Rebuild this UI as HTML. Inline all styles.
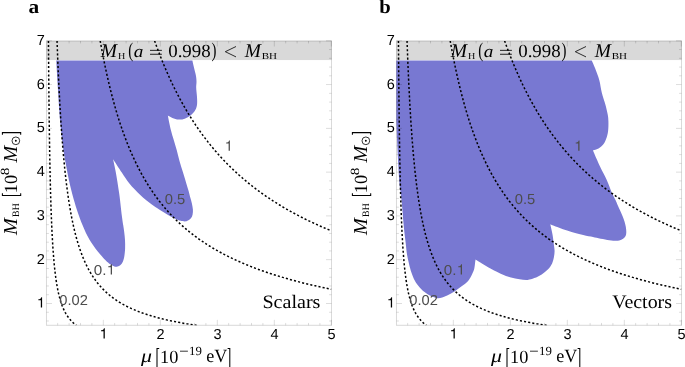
<!DOCTYPE html>
<html><head><meta charset="utf-8"><title>fig</title>
<style>
html,body{margin:0;padding:0;background:#fff;}
body{width:685px;height:367px;overflow:hidden;font-family:"Liberation Sans",sans-serif;}
svg{display:block;}
.all{opacity:0.999;}
text{text-rendering:geometricPrecision;}
</style></head><body>
<svg width="685" height="367" viewBox="0 0 685 367">
<defs><clipPath id="clip"><rect x="46.50" y="41.00" width="285.00" height="284.30"/></clipPath></defs>
<rect width="685" height="367" fill="#fff"/>
<g class="all">
<g transform="translate(0,0)">
<rect x="46.30" y="40.80" width="285.40" height="19.25" fill="#d9d9d9"/>
<path d="M56.25,60.40 C78.94,60.40 169.71,60.40 192.40,60.40 C192.65,61.53 193.32,64.70 193.90,67.20 C194.48,69.70 195.47,73.02 195.90,75.40 C196.33,77.78 196.45,79.45 196.50,81.50 C196.55,83.55 196.13,85.32 196.20,87.70 C196.27,90.08 196.75,93.08 196.90,95.80 C197.05,98.52 197.37,101.62 197.10,104.00 C196.83,106.38 196.35,108.23 195.30,110.10 C194.25,111.97 192.57,113.77 190.80,115.20 C189.03,116.63 186.73,117.98 184.70,118.70 C182.67,119.42 180.65,119.63 178.60,119.50 C176.55,119.37 174.20,118.55 172.40,117.90 C170.60,117.25 168.57,115.98 167.80,115.60 C168.30,117.95 169.81,125.63 170.80,129.70 C171.79,133.77 172.77,136.62 173.75,140.00 C174.73,143.38 175.74,146.52 176.70,150.00 C177.66,153.48 178.48,157.27 179.50,160.90 C180.52,164.53 181.70,168.17 182.80,171.80 C183.90,175.43 185.13,179.48 186.10,182.70 C187.07,185.92 187.92,188.67 188.60,191.10 C189.28,193.53 189.65,195.25 190.20,197.30 C190.75,199.35 191.45,201.37 191.90,203.40 C192.35,205.43 192.78,207.67 192.90,209.50 C193.02,211.33 192.90,212.97 192.60,214.40 C192.30,215.83 191.87,217.08 191.10,218.10 C190.33,219.12 189.03,219.95 188.00,220.50 C186.97,221.05 186.33,221.40 184.90,221.40 C183.47,221.40 181.23,221.05 179.40,220.50 C177.57,219.95 175.93,219.12 173.90,218.10 C171.87,217.08 169.65,215.83 167.20,214.40 C164.75,212.97 161.77,211.13 159.20,209.50 C156.63,207.87 154.95,207.02 151.80,204.60 C148.65,202.18 144.03,198.52 140.30,195.00 C136.57,191.48 132.48,187.25 129.40,183.50 C126.32,179.75 124.52,176.55 121.80,172.50 C119.08,168.45 114.55,161.42 113.10,159.20 C113.53,161.30 114.68,166.07 115.70,171.80 C116.72,177.53 118.18,186.33 119.20,193.60 C120.22,200.87 121.13,210.17 121.80,215.40 C122.47,220.63 122.80,222.23 123.20,225.00 C123.60,227.77 123.90,229.50 124.20,232.00 C124.50,234.50 124.85,237.27 125.00,240.00 C125.15,242.73 125.23,245.57 125.10,248.40 C124.97,251.23 124.60,254.75 124.20,257.00 C123.80,259.25 123.32,260.58 122.70,261.90 C122.08,263.22 121.37,264.13 120.50,264.90 C119.63,265.67 118.52,266.25 117.50,266.50 C116.48,266.75 115.63,266.77 114.40,266.40 C113.17,266.03 111.53,265.27 110.10,264.30 C108.67,263.33 107.43,262.23 105.80,260.60 C104.17,258.97 102.03,256.53 100.30,254.50 C98.57,252.47 96.93,250.43 95.40,248.40 C93.87,246.37 92.42,244.35 91.10,242.30 C89.78,240.25 88.65,238.32 87.50,236.10 C86.35,233.88 85.28,231.43 84.20,229.00 C83.12,226.57 82.07,224.25 81.00,221.50 C79.93,218.75 78.83,215.58 77.80,212.50 C76.77,209.42 76.10,207.58 74.80,203.00 C73.50,198.42 71.47,191.33 70.00,185.00 C68.53,178.67 67.17,171.33 66.00,165.00 C64.83,158.67 64.00,154.50 63.00,147.00 C62.00,139.50 60.83,129.50 60.00,120.00 C59.17,110.50 58.62,99.93 58.00,90.00 C57.38,80.07 56.54,65.33 56.25,60.40 Z" fill="#7878d2"/>
<g clip-path="url(#clip)" fill="none" stroke="#000" stroke-width="1.5" stroke-dasharray="2.1 2.1">
<path d="M48.45,40.80 L48.48,44.82 L48.51,48.78 L48.54,52.69 L48.57,56.56 L48.60,60.37 L48.63,64.13 L48.66,67.84 L48.69,71.50 L48.72,75.12 L48.75,78.68 L48.79,82.20 L48.82,85.68 L48.85,89.11 L48.89,92.49 L48.92,95.83 L48.96,99.13 L48.99,102.38 L49.03,105.59 L49.06,108.76 L49.10,111.88 L49.14,114.97 L49.17,118.02 L49.21,121.02 L49.25,123.99 L49.29,126.91 L49.33,129.80 L49.37,132.65 L49.41,135.46 L49.45,138.24 L49.49,140.98 L49.54,143.69 L49.58,146.35 L49.62,148.99 L49.67,151.59 L49.71,154.15 L49.76,156.68 L49.80,159.18 L49.85,161.65 L49.90,164.08 L49.94,166.48 L49.99,168.85 L50.04,171.19 L50.09,173.50 L50.14,175.78 L50.19,178.02 L50.24,180.24 L50.30,182.43 L50.35,184.59 L50.40,186.72 L50.46,188.83 L50.51,190.91 L50.57,192.95 L50.63,194.98 L50.68,196.97 L50.74,198.94 L50.80,200.89 L50.86,202.81 L50.92,204.70 L50.98,206.57 L51.04,208.41 L51.11,210.23 L51.17,212.03 L51.24,213.80 L51.30,215.55 L51.37,217.28 L51.44,218.98 L51.50,220.66 L51.57,222.32 L51.64,223.96 L51.71,225.58 L51.79,227.17 L51.86,228.75 L51.93,230.30 L52.01,231.83 L52.08,233.35 L52.16,234.84 L52.24,236.31 L52.32,237.77 L52.40,239.20 L52.48,240.62 L52.56,242.02 L52.64,243.40 L52.73,244.76 L52.81,246.10 L52.90,247.43 L52.99,248.74 L53.08,250.03 L53.17,251.30 L53.26,252.56 L53.35,253.80 L53.44,255.03 L53.54,256.24 L53.63,257.43 L53.73,258.61 L53.83,259.77 L53.93,260.92 L54.03,262.05 L54.13,263.16 L54.24,264.27 L54.34,265.36 L54.45,266.43 L54.56,267.49 L54.67,268.53 L54.78,269.57 L54.89,270.58 L55.01,271.59 L55.12,272.58 L55.24,273.56 L55.36,274.53 L55.48,275.48 L55.60,276.42 L55.72,277.35 L55.85,278.27 L55.98,279.17 L56.10,280.06 L56.23,280.94 L56.37,281.81 L56.50,282.67 L56.64,283.52 L56.77,284.35 L56.91,285.18 L57.05,285.99 L57.20,286.79 L57.34,287.59 L57.49,288.37 L57.64,289.14 L57.79,289.90 L57.94,290.66 L58.09,291.40 L58.25,292.13 L58.41,292.85 L58.57,293.57 L58.73,294.27 L58.90,294.96 L59.06,295.65 L59.23,296.33 L59.41,296.99 L59.58,297.65 L59.76,298.30 L59.94,298.94 L60.12,299.58 L60.30,300.20 L60.49,300.82 L60.67,301.43 L60.87,302.03 L61.06,302.62 L61.25,303.21 L61.45,303.79 L61.65,304.35 L61.86,304.92 L62.07,305.47 L62.27,306.02 L62.49,306.56 L62.70,307.09 L62.92,307.62 L63.14,308.14 L63.36,308.65 L63.59,309.16 L63.82,309.66 L64.05,310.15 L64.29,310.64 L64.53,311.12 L64.77,311.59 L65.02,312.06 L65.26,312.52 L65.52,312.98 L65.77,313.43 L66.03,313.87 L66.29,314.31 L66.56,314.74 L66.83,315.17 L67.10,315.59 L67.38,316.00 L67.66,316.41 L67.94,316.82 L68.23,317.21 L68.52,317.61 L68.81,318.00 L69.11,318.38 L69.42,318.76 L69.72,319.13 L70.03,319.50 L70.35,319.87 L70.67,320.22 L70.99,320.58 L71.32,320.93 L71.65,321.27 L71.99,321.61 L72.33,321.95 L72.68,322.28 L73.03,322.61 L73.38,322.93 L73.74,323.25 L74.11,323.57 L74.47,323.88 L74.85,324.18 L75.23,324.49 L75.61,324.78 L76.00,325.08 L76.40,325.37"/>
<path d="M57.05,40.80 L57.19,44.82 L57.34,48.78 L57.48,52.69 L57.63,56.56 L57.78,60.37 L57.93,64.13 L58.09,67.84 L58.25,71.50 L58.40,75.12 L58.56,78.68 L58.73,82.20 L58.89,85.68 L59.06,89.11 L59.23,92.49 L59.40,95.83 L59.58,99.13 L59.75,102.38 L59.93,105.59 L60.11,108.76 L60.29,111.88 L60.48,114.97 L60.67,118.02 L60.86,121.02 L61.05,123.99 L61.25,126.91 L61.45,129.80 L61.65,132.65 L61.85,135.46 L62.06,138.24 L62.27,140.98 L62.48,143.69 L62.70,146.35 L62.91,148.99 L63.13,151.59 L63.36,154.15 L63.58,156.68 L63.81,159.18 L64.05,161.65 L64.28,164.08 L64.52,166.48 L64.76,168.85 L65.01,171.19 L65.26,173.50 L65.51,175.78 L65.76,178.02 L66.02,180.24 L66.28,182.43 L66.55,184.59 L66.82,186.72 L67.09,188.83 L67.37,190.91 L67.65,192.95 L67.93,194.98 L68.22,196.97 L68.51,198.94 L68.80,200.89 L69.10,202.81 L69.41,204.70 L69.71,206.57 L70.02,208.41 L70.34,210.23 L70.66,212.03 L70.98,213.80 L71.31,215.55 L71.64,217.28 L71.98,218.98 L72.32,220.66 L72.67,222.32 L73.02,223.96 L73.37,225.58 L73.73,227.17 L74.09,228.75 L74.46,230.30 L74.84,231.83 L75.22,233.35 L75.60,234.84 L75.99,236.31 L76.38,237.77 L76.78,239.20 L77.19,240.62 L77.60,242.02 L78.01,243.40 L78.44,244.76 L78.86,246.10 L79.30,247.43 L79.73,248.74 L80.18,250.03 L80.63,251.30 L81.08,252.56 L81.55,253.80 L82.01,255.03 L82.49,256.24 L82.97,257.43 L83.46,258.61 L83.95,259.77 L84.45,260.92 L84.96,262.05 L85.47,263.16 L85.99,264.27 L86.52,265.36 L87.05,266.43 L87.59,267.49 L88.14,268.53 L88.70,269.57 L89.26,270.58 L89.83,271.59 L90.41,272.58 L91.00,273.56 L91.59,274.53 L92.19,275.48 L92.80,276.42 L93.42,277.35 L94.04,278.27 L94.68,279.17 L95.32,280.06 L95.97,280.94 L96.63,281.81 L97.30,282.67 L97.98,283.52 L98.66,284.35 L99.36,285.18 L100.06,285.99 L100.78,286.79 L101.50,287.59 L102.23,288.37 L102.98,289.14 L103.73,289.90 L104.49,290.66 L105.27,291.40 L106.05,292.13 L106.84,292.85 L107.65,293.57 L108.46,294.27 L109.29,294.96 L110.12,295.65 L110.97,296.33 L111.83,296.99 L112.70,297.65 L113.58,298.30 L114.48,298.94 L115.38,299.58 L116.30,300.20 L117.23,300.82 L118.17,301.43 L119.13,302.03 L120.09,302.62 L121.07,303.21 L122.07,303.79 L123.07,304.35 L124.09,304.92 L125.13,305.47 L126.17,306.02 L127.24,306.56 L128.31,307.09 L129.40,307.62 L130.50,308.14 L131.62,308.65 L132.76,309.16 L133.90,309.66 L135.07,310.15 L136.25,310.64 L137.44,311.12 L138.65,311.59 L139.88,312.06 L141.12,312.52 L142.38,312.98 L143.66,313.43 L144.95,313.87 L146.26,314.31 L147.59,314.74 L148.93,315.17 L150.30,315.59 L151.68,316.00 L153.08,316.41 L154.50,316.82 L155.93,317.21 L157.39,317.61 L158.87,318.00 L160.36,318.38 L161.88,318.76 L163.41,319.13 L164.97,319.50 L166.54,319.87 L168.14,320.22 L169.76,320.58 L171.40,320.93 L173.06,321.27 L174.74,321.61 L176.45,321.95 L178.18,322.28 L179.93,322.61 L181.70,322.93 L183.50,323.25 L185.33,323.57 L187.17,323.88 L189.04,324.18 L190.94,324.49 L192.86,324.78 L194.81,325.08 L196.78,325.37"/>
<path d="M100.21,40.80 L100.66,43.34 L101.11,45.86 L101.57,48.36 L102.03,50.84 L102.50,53.30 L102.97,55.73 L103.44,58.15 L103.92,60.55 L104.40,62.93 L104.89,65.28 L105.38,67.62 L105.87,69.94 L106.37,72.24 L106.87,74.52 L107.38,76.78 L107.89,79.02 L108.40,81.25 L108.92,83.45 L109.45,85.64 L109.97,87.81 L110.51,89.96 L111.04,92.10 L111.58,94.21 L112.13,96.31 L112.68,98.39 L113.23,100.45 L113.79,102.50 L114.36,104.53 L114.93,106.54 L115.50,108.54 L116.08,110.52 L116.66,112.48 L117.25,114.43 L117.85,116.36 L118.44,118.27 L119.05,120.17 L119.65,122.05 L120.27,123.92 L120.89,125.77 L121.51,127.61 L122.14,129.43 L122.77,131.24 L123.41,133.03 L124.06,134.80 L124.71,136.57 L125.36,138.31 L126.02,140.05 L126.69,141.76 L127.36,143.47 L128.04,145.16 L128.72,146.83 L129.41,148.50 L130.11,150.14 L130.81,151.78 L131.52,153.40 L132.23,155.01 L132.95,156.60 L133.67,158.18 L134.40,159.75 L135.14,161.30 L135.88,162.85 L136.63,164.37 L137.38,165.89 L138.15,167.40 L138.91,168.89 L139.69,170.37 L140.47,171.83 L141.26,173.29 L142.05,174.73 L142.85,176.16 L143.66,177.58 L144.47,178.99 L145.29,180.38 L146.12,181.76 L146.96,183.14 L147.80,184.50 L148.65,185.85 L149.50,187.19 L150.36,188.51 L151.23,189.83 L152.11,191.13 L153.00,192.43 L153.89,193.71 L154.79,194.99 L155.70,196.25 L156.61,197.50 L157.53,198.74 L158.46,199.97 L159.40,201.20 L160.35,202.41 L161.30,203.61 L162.26,204.80 L163.23,205.98 L164.21,207.15 L165.19,208.31 L166.19,209.47 L167.19,210.61 L168.20,211.74 L169.22,212.86 L170.25,213.98 L171.28,215.08 L172.33,216.18 L173.38,217.27 L174.45,218.34 L175.52,219.41 L176.60,220.47 L177.69,221.52 L178.79,222.57 L179.89,223.60 L181.01,224.63 L182.14,225.64 L183.27,226.65 L184.42,227.65 L185.57,228.64 L186.74,229.63 L187.91,230.60 L189.09,231.57 L190.29,232.53 L191.49,233.48 L192.71,234.42 L193.93,235.36 L195.17,236.29 L196.41,237.21 L197.66,238.12 L198.93,239.03 L200.21,239.92 L201.49,240.81 L202.79,241.70 L204.10,242.57 L205.42,243.44 L206.75,244.30 L208.09,245.15 L209.44,246.00 L210.81,246.84 L212.18,247.67 L213.57,248.50 L214.97,249.32 L216.38,250.13 L217.80,250.93 L219.23,251.73 L220.68,252.52 L222.14,253.31 L223.61,254.09 L225.09,254.86 L226.59,255.63 L228.09,256.39 L229.61,257.14 L231.15,257.89 L232.69,258.63 L234.25,259.36 L235.82,260.09 L237.41,260.82 L239.00,261.53 L240.62,262.24 L242.24,262.95 L243.88,263.65 L245.53,264.34 L247.20,265.03 L248.88,265.71 L250.57,266.39 L252.28,267.06 L254.00,267.72 L255.74,268.38 L257.49,269.04 L259.25,269.68 L261.03,270.33 L262.83,270.97 L264.64,271.60 L266.46,272.23 L268.31,272.85 L270.16,273.46 L272.03,274.08 L273.92,274.68 L275.82,275.29 L277.74,275.88 L279.68,276.47 L281.63,277.06 L283.60,277.64 L285.58,278.22 L287.58,278.79 L289.60,279.36 L291.63,279.92 L293.68,280.48 L295.75,281.04 L297.84,281.58 L299.94,282.13 L302.06,282.67 L304.20,283.20 L306.36,283.74 L308.53,284.26 L310.72,284.78 L312.93,285.30 L315.16,285.82 L317.41,286.33 L319.68,286.83 L321.96,287.33 L324.27,287.83 L326.59,288.32 L328.94,288.81 L331.30,289.30"/>
<path d="M154.60,40.80 L155.13,42.28 L155.65,43.75 L156.18,45.22 L156.72,46.67 L157.25,48.12 L157.79,49.57 L158.33,51.00 L158.87,52.43 L159.42,53.86 L159.97,55.27 L160.52,56.68 L161.07,58.08 L161.63,59.48 L162.19,60.87 L162.75,62.25 L163.32,63.63 L163.88,65.00 L164.45,66.36 L165.03,67.71 L165.60,69.06 L166.18,70.41 L166.76,71.74 L167.35,73.07 L167.93,74.40 L168.52,75.71 L169.12,77.02 L169.71,78.33 L170.31,79.62 L170.91,80.92 L171.52,82.20 L172.12,83.48 L172.73,84.75 L173.35,86.02 L173.96,87.28 L174.58,88.54 L175.20,89.79 L175.83,91.03 L176.46,92.26 L177.09,93.50 L177.72,94.72 L178.36,95.94 L179.00,97.15 L179.64,98.36 L180.29,99.56 L180.94,100.76 L181.59,101.95 L182.25,103.13 L182.91,104.31 L183.57,105.48 L184.24,106.65 L184.91,107.81 L185.58,108.96 L186.25,110.11 L186.93,111.26 L187.61,112.40 L188.30,113.53 L188.99,114.66 L189.68,115.78 L190.38,116.90 L191.07,118.01 L191.78,119.12 L192.48,120.22 L193.19,121.31 L193.90,122.40 L194.62,123.49 L195.34,124.57 L196.06,125.64 L196.79,126.71 L197.52,127.78 L198.25,128.84 L198.99,129.89 L199.73,130.94 L200.47,131.98 L201.22,133.02 L201.97,134.06 L202.73,135.09 L203.49,136.11 L204.25,137.13 L205.01,138.14 L205.78,139.15 L206.56,140.16 L207.33,141.16 L208.11,142.15 L208.90,143.14 L209.69,144.13 L210.48,145.11 L211.28,146.08 L212.08,147.05 L212.88,148.02 L213.69,148.98 L214.50,149.94 L215.32,150.89 L216.14,151.84 L216.96,152.78 L217.79,153.72 L218.62,154.65 L219.45,155.58 L220.29,156.51 L221.14,157.43 L221.99,158.35 L222.84,159.26 L223.69,160.16 L224.55,161.07 L225.42,161.97 L226.29,162.86 L227.16,163.75 L228.04,164.64 L228.92,165.52 L229.80,166.39 L230.69,167.27 L231.59,168.14 L232.49,169.00 L233.39,169.86 L234.30,170.72 L235.21,171.57 L236.13,172.42 L237.05,173.26 L237.97,174.10 L238.90,174.94 L239.83,175.77 L240.77,176.60 L241.72,177.42 L242.66,178.24 L243.62,179.05 L244.57,179.87 L245.53,180.67 L246.50,181.48 L247.47,182.28 L248.45,183.07 L249.43,183.87 L250.41,184.66 L251.40,185.44 L252.40,186.22 L253.40,187.00 L254.40,187.77 L255.41,188.54 L256.42,189.31 L257.44,190.07 L258.47,190.83 L259.50,191.58 L260.53,192.34 L261.57,193.08 L262.61,193.83 L263.66,194.57 L264.72,195.30 L265.78,196.04 L266.84,196.77 L267.91,197.49 L268.98,198.22 L270.06,198.94 L271.15,199.65 L272.24,200.36 L273.34,201.07 L274.44,201.78 L275.54,202.48 L276.65,203.18 L277.77,203.87 L278.89,204.57 L280.02,205.26 L281.16,205.94 L282.29,206.62 L283.44,207.30 L284.59,207.98 L285.75,208.65 L286.91,209.32 L288.07,209.98 L289.25,210.65 L290.42,211.31 L291.61,211.96 L292.80,212.62 L293.99,213.26 L295.19,213.91 L296.40,214.56 L297.61,215.20 L298.83,215.83 L300.06,216.47 L301.29,217.10 L302.52,217.73 L303.77,218.35 L305.02,218.97 L306.27,219.59 L307.53,220.21 L308.80,220.82 L310.07,221.43 L311.35,222.04 L312.64,222.64 L313.93,223.25 L315.23,223.84 L316.53,224.44 L317.84,225.03 L319.16,225.62 L320.48,226.21 L321.81,226.79 L323.15,227.38 L324.49,227.95 L325.84,228.53 L327.19,229.10 L328.56,229.67 L329.92,230.24 L331.30,230.81"/>
</g>
<path d="M57.70,325.30 v-2.40 M57.70,41.00 v2.40 M69.10,325.30 v-2.40 M69.10,41.00 v2.40 M80.50,325.30 v-2.40 M80.50,41.00 v2.40 M91.90,325.30 v-2.40 M91.90,41.00 v2.40 M103.30,325.30 v-5.50 M103.30,41.00 v5.50 M114.70,325.30 v-2.40 M114.70,41.00 v2.40 M126.10,325.30 v-2.40 M126.10,41.00 v2.40 M137.50,325.30 v-2.40 M137.50,41.00 v2.40 M148.90,325.30 v-2.40 M148.90,41.00 v2.40 M160.30,325.30 v-5.50 M160.30,41.00 v5.50 M171.70,325.30 v-2.40 M171.70,41.00 v2.40 M183.10,325.30 v-2.40 M183.10,41.00 v2.40 M194.50,325.30 v-2.40 M194.50,41.00 v2.40 M205.90,325.30 v-2.40 M205.90,41.00 v2.40 M217.30,325.30 v-5.50 M217.30,41.00 v5.50 M228.70,325.30 v-2.40 M228.70,41.00 v2.40 M240.10,325.30 v-2.40 M240.10,41.00 v2.40 M251.50,325.30 v-2.40 M251.50,41.00 v2.40 M262.90,325.30 v-2.40 M262.90,41.00 v2.40 M274.30,325.30 v-5.50 M274.30,41.00 v5.50 M285.70,325.30 v-2.40 M285.70,41.00 v2.40 M297.10,325.30 v-2.40 M297.10,41.00 v2.40 M308.50,325.30 v-2.40 M308.50,41.00 v2.40 M319.90,325.30 v-2.40 M319.90,41.00 v2.40 M331.30,325.30 v-5.50 M331.30,41.00 v5.50 M46.50,320.99 h2.40 M331.50,320.99 h-2.40 M46.50,312.24 h2.40 M331.50,312.24 h-2.40 M46.50,303.48 h5.50 M331.50,303.48 h-5.50 M46.50,294.72 h2.40 M331.50,294.72 h-2.40 M46.50,285.97 h2.40 M331.50,285.97 h-2.40 M46.50,277.21 h2.40 M331.50,277.21 h-2.40 M46.50,268.46 h2.40 M331.50,268.46 h-2.40 M46.50,259.70 h5.50 M331.50,259.70 h-5.50 M46.50,250.94 h2.40 M331.50,250.94 h-2.40 M46.50,242.19 h2.40 M331.50,242.19 h-2.40 M46.50,233.43 h2.40 M331.50,233.43 h-2.40 M46.50,224.68 h2.40 M331.50,224.68 h-2.40 M46.50,215.92 h5.50 M331.50,215.92 h-5.50 M46.50,207.16 h2.40 M331.50,207.16 h-2.40 M46.50,198.41 h2.40 M331.50,198.41 h-2.40 M46.50,189.65 h2.40 M331.50,189.65 h-2.40 M46.50,180.90 h2.40 M331.50,180.90 h-2.40 M46.50,172.14 h5.50 M331.50,172.14 h-5.50 M46.50,163.38 h2.40 M331.50,163.38 h-2.40 M46.50,154.63 h2.40 M331.50,154.63 h-2.40 M46.50,145.87 h2.40 M331.50,145.87 h-2.40 M46.50,137.12 h2.40 M331.50,137.12 h-2.40 M46.50,128.36 h5.50 M331.50,128.36 h-5.50 M46.50,119.60 h2.40 M331.50,119.60 h-2.40 M46.50,110.85 h2.40 M331.50,110.85 h-2.40 M46.50,102.09 h2.40 M331.50,102.09 h-2.40 M46.50,93.34 h2.40 M331.50,93.34 h-2.40 M46.50,84.58 h5.50 M331.50,84.58 h-5.50 M46.50,75.82 h2.40 M331.50,75.82 h-2.40 M46.50,67.07 h2.40 M331.50,67.07 h-2.40 M46.50,58.31 h2.40 M331.50,58.31 h-2.40 M46.50,49.56 h2.40 M331.50,49.56 h-2.40 M46.50,40.80 h5.50 M331.50,40.80 h-5.50" stroke="#000" stroke-opacity="0.18" stroke-width="0.8" fill="none"/>
<rect x="46.50" y="41.00" width="285.00" height="284.30" fill="none" stroke="#000" stroke-opacity="0.15" stroke-width="1.1"/>
<g font-family="'Liberation Sans', sans-serif" font-size="14.5" fill="#000">
<text x="160.60" y="338.6" text-anchor="middle">2</text>
<text x="217.60" y="338.6" text-anchor="middle">3</text>
<text x="274.60" y="338.6" text-anchor="middle">4</text>
<text x="331.60" y="338.6" text-anchor="middle">5</text>
<text x="44.9" y="263.70" text-anchor="end">2</text>
<text x="44.9" y="219.92" text-anchor="end">3</text>
<text x="44.9" y="176.14" text-anchor="end">4</text>
<text x="44.9" y="132.36" text-anchor="end">5</text>
<text x="44.9" y="88.58" text-anchor="end">6</text>
<text x="44.9" y="44.80" text-anchor="end">7</text>
</g>
<path d="M104.80,338.60L103.52,338.60L103.52,331.28L101.06,331.28L101.06,330.36C102.64,330.31 103.73,329.68 103.97,328.32L104.80,328.32Z" fill="#000"/>
<path d="M42.10,307.48L40.82,307.48L40.82,300.16L38.36,300.16L38.36,299.24C39.94,299.19 41.03,298.56 41.27,297.20L42.10,297.20Z" fill="#000"/>
<text transform="translate(59.23,305.10) scale(1.0139,1)" font-family="'Liberation Sans', sans-serif" font-size="14.50" fill="#4d4d4d">0.02</text>
<text transform="translate(93.71,274.60) scale(1.0488,1)" font-family="'Liberation Sans', sans-serif" font-size="14.50" fill="#4d4d4d">0.</text>
<path d="M112.00,274.60L110.72,274.60L110.72,267.28L108.26,267.28L108.26,266.36C109.84,266.31 110.93,265.68 111.17,264.32L112.00,264.32Z" fill="#4d4d4d"/>
<text transform="translate(164.72,203.80) scale(1.0168,1)" font-family="'Liberation Sans', sans-serif" font-size="14.50" fill="#4d4d4d">0.5</text>
<path d="M229.90,150.70L228.62,150.70L228.62,143.38L226.16,143.38L226.16,142.46C227.74,142.41 228.83,141.78 229.07,140.42L229.90,140.42Z" fill="#4d4d4d"/>
<text transform="translate(100.73,56.70) scale(0.9968,1)" font-family="'Liberation Serif', serif" font-style="italic" font-size="19.60" fill="#000">M</text>
<text transform="translate(117.91,59.30) scale(1.0967,1)" font-family="'Liberation Serif', serif" font-size="9.20" fill="#000">H</text>
<text transform="translate(128.35,56.90) scale(0.7045,1)" font-family="'Liberation Serif', serif" font-size="21.00" fill="#000">(</text>
<text transform="translate(133.83,56.70) scale(1.1090,1)" font-family="'Liberation Serif', serif" font-style="italic" font-size="17.30" fill="#000">a</text>
<path d="M150,50.35H161.9M150,54.25H161.9" stroke="#000" stroke-width="0.85" fill="none"/>
<text transform="translate(168.18,56.60) scale(1.0165,1)" font-family="'Liberation Serif', serif" font-size="18.60" fill="#000">0.998</text>
<text transform="translate(211.42,56.90) scale(0.7045,1)" font-family="'Liberation Serif', serif" font-size="21.00" fill="#000">)</text>
<path d="M236,46.5L225.3,51.7L236,56.9" stroke="#000" stroke-width="0.8" fill="none"/>
<text transform="translate(244.73,56.70) scale(0.9910,1)" font-family="'Liberation Serif', serif" font-style="italic" font-size="19.60" fill="#000">M</text>
<text transform="translate(261.68,59.30) scale(1.2004,1)" font-family="'Liberation Serif', serif" font-size="9.20" fill="#000">BH</text>
<text transform="translate(262.46,308.20) scale(1.0565,1)" font-family="'Liberation Serif', serif" font-size="19.00" fill="#000">Scalars</text>
<text transform="translate(141.02,362.40) scale(1.1982,1)" font-family="'Liberation Serif', serif" font-style="italic" font-size="18.30" fill="#000">μ</text>
<path d="M159.2,348.4H157V367.4H159.2" stroke="#000" stroke-width="1.05" fill="none"/>
<text transform="translate(159.99,362.50) scale(0.9842,1)" font-family="'Liberation Serif', serif" font-size="18.60" fill="#000">10</text>
<path d="M180,351.2H187.9" stroke="#000" stroke-width="0.8" fill="none"/>
<text transform="translate(189.07,354.60) scale(1.0286,1)" font-family="'Liberation Serif', serif" font-size="12.50" fill="#000">19</text>
<text transform="translate(206.29,362.40) scale(0.9734,1)" font-family="'Liberation Serif', serif" font-size="18.60" fill="#000">eV</text>
<path d="M227.6,348.4H229.8V367.4H227.6" stroke="#000" stroke-width="1.05" fill="none"/>
<g transform="translate(16.5,235.2) rotate(-90)">
<text transform="translate(0.24,0.00) scale(1.0207,1)" font-family="'Liberation Serif', serif" font-style="italic" font-size="19.80" fill="#000">M</text>
<text transform="translate(18.32,2.80) scale(1.0043,1)" font-family="'Liberation Serif', serif" font-size="9.80" fill="#000">BH</text>
<path d="M41.9,-14.1H39.7V4.2H41.9" stroke="#000" stroke-width="1.05" fill="none"/>
<text transform="translate(41.98,0.00) scale(0.9904,1)" font-family="'Liberation Serif', serif" font-size="18.60" fill="#000">10</text>
<text transform="translate(59.92,-7.90) scale(1.2269,1)" font-family="'Liberation Serif', serif" font-size="12.50" fill="#000">8</text>
<text transform="translate(72.74,0.00) scale(1.0151,1)" font-family="'Liberation Serif', serif" font-style="italic" font-size="19.80" fill="#000">M</text>
<circle cx="94.4" cy="-0.65" r="3.85" fill="none" stroke="#000" stroke-width="0.8"/><circle cx="94.4" cy="-0.65" r="0.95" fill="#000"/>
<path d="M100.4,-14.1H102.6V4.2H100.4" stroke="#000" stroke-width="1.05" fill="none"/>
</g>
</g>
<g transform="translate(350,0)">
<rect x="46.30" y="40.80" width="285.40" height="19.25" fill="#d9d9d9"/>
<path d="M46.30,60.40 C78.88,60.40 209.18,60.40 241.75,60.40 C242.29,61.67 243.75,64.73 245.00,68.00 C246.25,71.27 248.12,75.92 249.25,80.00 C250.38,84.08 250.71,88.33 251.75,92.50 C252.79,96.67 254.49,101.25 255.50,105.00 C256.51,108.75 257.32,112.33 257.80,115.00 C258.28,117.67 258.30,119.08 258.40,121.00 C258.50,122.92 258.45,124.85 258.40,126.50 C258.35,128.15 258.28,129.43 258.10,130.90 C257.92,132.37 257.67,133.85 257.30,135.30 C256.93,136.75 256.40,138.33 255.90,139.60 C255.40,140.87 255.03,141.80 254.30,142.90 C253.57,144.00 252.47,145.28 251.50,146.20 C250.53,147.12 249.40,147.87 248.50,148.40 C247.60,148.93 247.03,149.10 246.10,149.40 C245.17,149.70 243.43,150.07 242.90,150.20 C243.48,151.58 245.13,155.62 246.40,158.50 C247.67,161.38 248.78,163.92 250.50,167.50 C252.22,171.08 254.88,175.83 256.75,180.00 C258.62,184.17 260.29,189.17 261.75,192.50 C263.21,195.83 264.52,197.92 265.50,200.00 C266.48,202.08 266.83,203.25 267.60,205.00 C268.37,206.75 269.28,208.68 270.10,210.50 C270.92,212.32 271.77,214.08 272.50,215.90 C273.23,217.72 273.95,219.58 274.50,221.40 C275.05,223.22 275.50,224.98 275.80,226.80 C276.10,228.62 276.33,230.75 276.30,232.30 C276.27,233.85 276.13,235.02 275.60,236.10 C275.07,237.18 274.15,238.08 273.10,238.80 C272.05,239.52 270.67,240.07 269.30,240.40 C267.93,240.73 266.90,240.88 264.90,240.80 C262.90,240.72 260.03,240.32 257.30,239.90 C254.57,239.48 251.23,238.85 248.50,238.30 C245.77,237.75 243.98,237.28 240.90,236.60 C237.82,235.92 234.65,235.43 230.00,234.20 C225.35,232.97 217.95,230.86 213.00,229.20 C208.05,227.54 202.42,225.07 200.30,224.25 C200.68,226.04 202.00,231.54 202.60,235.00 C203.20,238.46 203.57,242.32 203.90,245.00 C204.23,247.68 204.60,249.05 204.60,251.10 C204.60,253.15 204.32,255.25 203.90,257.30 C203.48,259.35 203.12,261.37 202.10,263.40 C201.08,265.43 199.53,267.67 197.80,269.50 C196.07,271.33 193.95,272.97 191.70,274.40 C189.45,275.83 186.65,277.18 184.30,278.10 C181.95,279.02 180.05,279.70 177.60,279.90 C175.15,280.10 172.37,279.70 169.60,279.30 C166.83,278.90 163.65,278.22 161.00,277.50 C158.35,276.78 157.20,276.55 153.70,275.00 C150.20,273.45 144.68,270.80 140.00,268.20 C135.32,265.60 128.00,260.87 125.60,259.40 C125.53,259.80 125.42,260.27 125.20,261.80 C124.98,263.33 124.80,266.55 124.30,268.60 C123.80,270.65 123.23,272.05 122.20,274.10 C121.17,276.15 119.92,278.82 118.10,280.90 C116.28,282.98 113.57,284.83 111.30,286.60 C109.03,288.37 106.77,290.07 104.50,291.50 C102.23,292.93 99.75,294.20 97.70,295.20 C95.65,296.20 93.90,296.98 92.20,297.50 C90.50,298.02 89.20,298.45 87.50,298.30 C85.80,298.15 83.93,297.47 82.00,296.60 C80.07,295.73 77.72,294.35 75.90,293.10 C74.08,291.85 72.80,290.92 71.10,289.10 C69.40,287.28 67.13,284.48 65.70,282.20 C64.27,279.92 63.42,277.67 62.50,275.40 C61.58,273.13 61.10,272.00 60.20,268.60 C59.30,265.20 57.85,259.25 57.10,255.00 C56.35,250.75 56.17,247.00 55.70,243.10 C55.23,239.20 54.72,235.45 54.30,231.60 C53.88,227.75 53.52,223.60 53.20,220.00 C52.88,216.40 52.68,213.33 52.40,210.00 C52.12,206.67 51.97,204.17 51.50,200.00 C51.03,195.83 50.10,190.17 49.60,185.00 C49.10,179.83 48.88,175.67 48.50,169.00 C48.12,162.33 47.67,153.17 47.30,145.00 C46.93,136.83 46.47,124.17 46.30,120.00 C46.30,110.07 46.30,70.33 46.30,60.40 Z" fill="#7878d2"/>
<g clip-path="url(#clip)" fill="none" stroke="#000" stroke-width="1.5" stroke-dasharray="2.1 2.1">
<path d="M48.45,40.80 L48.48,44.82 L48.51,48.78 L48.54,52.69 L48.57,56.56 L48.60,60.37 L48.63,64.13 L48.66,67.84 L48.69,71.50 L48.72,75.12 L48.75,78.68 L48.79,82.20 L48.82,85.68 L48.85,89.11 L48.89,92.49 L48.92,95.83 L48.96,99.13 L48.99,102.38 L49.03,105.59 L49.06,108.76 L49.10,111.88 L49.14,114.97 L49.17,118.02 L49.21,121.02 L49.25,123.99 L49.29,126.91 L49.33,129.80 L49.37,132.65 L49.41,135.46 L49.45,138.24 L49.49,140.98 L49.54,143.69 L49.58,146.35 L49.62,148.99 L49.67,151.59 L49.71,154.15 L49.76,156.68 L49.80,159.18 L49.85,161.65 L49.90,164.08 L49.94,166.48 L49.99,168.85 L50.04,171.19 L50.09,173.50 L50.14,175.78 L50.19,178.02 L50.24,180.24 L50.30,182.43 L50.35,184.59 L50.40,186.72 L50.46,188.83 L50.51,190.91 L50.57,192.95 L50.63,194.98 L50.68,196.97 L50.74,198.94 L50.80,200.89 L50.86,202.81 L50.92,204.70 L50.98,206.57 L51.04,208.41 L51.11,210.23 L51.17,212.03 L51.24,213.80 L51.30,215.55 L51.37,217.28 L51.44,218.98 L51.50,220.66 L51.57,222.32 L51.64,223.96 L51.71,225.58 L51.79,227.17 L51.86,228.75 L51.93,230.30 L52.01,231.83 L52.08,233.35 L52.16,234.84 L52.24,236.31 L52.32,237.77 L52.40,239.20 L52.48,240.62 L52.56,242.02 L52.64,243.40 L52.73,244.76 L52.81,246.10 L52.90,247.43 L52.99,248.74 L53.08,250.03 L53.17,251.30 L53.26,252.56 L53.35,253.80 L53.44,255.03 L53.54,256.24 L53.63,257.43 L53.73,258.61 L53.83,259.77 L53.93,260.92 L54.03,262.05 L54.13,263.16 L54.24,264.27 L54.34,265.36 L54.45,266.43 L54.56,267.49 L54.67,268.53 L54.78,269.57 L54.89,270.58 L55.01,271.59 L55.12,272.58 L55.24,273.56 L55.36,274.53 L55.48,275.48 L55.60,276.42 L55.72,277.35 L55.85,278.27 L55.98,279.17 L56.10,280.06 L56.23,280.94 L56.37,281.81 L56.50,282.67 L56.64,283.52 L56.77,284.35 L56.91,285.18 L57.05,285.99 L57.20,286.79 L57.34,287.59 L57.49,288.37 L57.64,289.14 L57.79,289.90 L57.94,290.66 L58.09,291.40 L58.25,292.13 L58.41,292.85 L58.57,293.57 L58.73,294.27 L58.90,294.96 L59.06,295.65 L59.23,296.33 L59.41,296.99 L59.58,297.65 L59.76,298.30 L59.94,298.94 L60.12,299.58 L60.30,300.20 L60.49,300.82 L60.67,301.43 L60.87,302.03 L61.06,302.62 L61.25,303.21 L61.45,303.79 L61.65,304.35 L61.86,304.92 L62.07,305.47 L62.27,306.02 L62.49,306.56 L62.70,307.09 L62.92,307.62 L63.14,308.14 L63.36,308.65 L63.59,309.16 L63.82,309.66 L64.05,310.15 L64.29,310.64 L64.53,311.12 L64.77,311.59 L65.02,312.06 L65.26,312.52 L65.52,312.98 L65.77,313.43 L66.03,313.87 L66.29,314.31 L66.56,314.74 L66.83,315.17 L67.10,315.59 L67.38,316.00 L67.66,316.41 L67.94,316.82 L68.23,317.21 L68.52,317.61 L68.81,318.00 L69.11,318.38 L69.42,318.76 L69.72,319.13 L70.03,319.50 L70.35,319.87 L70.67,320.22 L70.99,320.58 L71.32,320.93 L71.65,321.27 L71.99,321.61 L72.33,321.95 L72.68,322.28 L73.03,322.61 L73.38,322.93 L73.74,323.25 L74.11,323.57 L74.47,323.88 L74.85,324.18 L75.23,324.49 L75.61,324.78 L76.00,325.08 L76.40,325.37"/>
<path d="M57.05,40.80 L57.19,44.82 L57.34,48.78 L57.48,52.69 L57.63,56.56 L57.78,60.37 L57.93,64.13 L58.09,67.84 L58.25,71.50 L58.40,75.12 L58.56,78.68 L58.73,82.20 L58.89,85.68 L59.06,89.11 L59.23,92.49 L59.40,95.83 L59.58,99.13 L59.75,102.38 L59.93,105.59 L60.11,108.76 L60.29,111.88 L60.48,114.97 L60.67,118.02 L60.86,121.02 L61.05,123.99 L61.25,126.91 L61.45,129.80 L61.65,132.65 L61.85,135.46 L62.06,138.24 L62.27,140.98 L62.48,143.69 L62.70,146.35 L62.91,148.99 L63.13,151.59 L63.36,154.15 L63.58,156.68 L63.81,159.18 L64.05,161.65 L64.28,164.08 L64.52,166.48 L64.76,168.85 L65.01,171.19 L65.26,173.50 L65.51,175.78 L65.76,178.02 L66.02,180.24 L66.28,182.43 L66.55,184.59 L66.82,186.72 L67.09,188.83 L67.37,190.91 L67.65,192.95 L67.93,194.98 L68.22,196.97 L68.51,198.94 L68.80,200.89 L69.10,202.81 L69.41,204.70 L69.71,206.57 L70.02,208.41 L70.34,210.23 L70.66,212.03 L70.98,213.80 L71.31,215.55 L71.64,217.28 L71.98,218.98 L72.32,220.66 L72.67,222.32 L73.02,223.96 L73.37,225.58 L73.73,227.17 L74.09,228.75 L74.46,230.30 L74.84,231.83 L75.22,233.35 L75.60,234.84 L75.99,236.31 L76.38,237.77 L76.78,239.20 L77.19,240.62 L77.60,242.02 L78.01,243.40 L78.44,244.76 L78.86,246.10 L79.30,247.43 L79.73,248.74 L80.18,250.03 L80.63,251.30 L81.08,252.56 L81.55,253.80 L82.01,255.03 L82.49,256.24 L82.97,257.43 L83.46,258.61 L83.95,259.77 L84.45,260.92 L84.96,262.05 L85.47,263.16 L85.99,264.27 L86.52,265.36 L87.05,266.43 L87.59,267.49 L88.14,268.53 L88.70,269.57 L89.26,270.58 L89.83,271.59 L90.41,272.58 L91.00,273.56 L91.59,274.53 L92.19,275.48 L92.80,276.42 L93.42,277.35 L94.04,278.27 L94.68,279.17 L95.32,280.06 L95.97,280.94 L96.63,281.81 L97.30,282.67 L97.98,283.52 L98.66,284.35 L99.36,285.18 L100.06,285.99 L100.78,286.79 L101.50,287.59 L102.23,288.37 L102.98,289.14 L103.73,289.90 L104.49,290.66 L105.27,291.40 L106.05,292.13 L106.84,292.85 L107.65,293.57 L108.46,294.27 L109.29,294.96 L110.12,295.65 L110.97,296.33 L111.83,296.99 L112.70,297.65 L113.58,298.30 L114.48,298.94 L115.38,299.58 L116.30,300.20 L117.23,300.82 L118.17,301.43 L119.13,302.03 L120.09,302.62 L121.07,303.21 L122.07,303.79 L123.07,304.35 L124.09,304.92 L125.13,305.47 L126.17,306.02 L127.24,306.56 L128.31,307.09 L129.40,307.62 L130.50,308.14 L131.62,308.65 L132.76,309.16 L133.90,309.66 L135.07,310.15 L136.25,310.64 L137.44,311.12 L138.65,311.59 L139.88,312.06 L141.12,312.52 L142.38,312.98 L143.66,313.43 L144.95,313.87 L146.26,314.31 L147.59,314.74 L148.93,315.17 L150.30,315.59 L151.68,316.00 L153.08,316.41 L154.50,316.82 L155.93,317.21 L157.39,317.61 L158.87,318.00 L160.36,318.38 L161.88,318.76 L163.41,319.13 L164.97,319.50 L166.54,319.87 L168.14,320.22 L169.76,320.58 L171.40,320.93 L173.06,321.27 L174.74,321.61 L176.45,321.95 L178.18,322.28 L179.93,322.61 L181.70,322.93 L183.50,323.25 L185.33,323.57 L187.17,323.88 L189.04,324.18 L190.94,324.49 L192.86,324.78 L194.81,325.08 L196.78,325.37"/>
<path d="M100.21,40.80 L100.66,43.34 L101.11,45.86 L101.57,48.36 L102.03,50.84 L102.50,53.30 L102.97,55.73 L103.44,58.15 L103.92,60.55 L104.40,62.93 L104.89,65.28 L105.38,67.62 L105.87,69.94 L106.37,72.24 L106.87,74.52 L107.38,76.78 L107.89,79.02 L108.40,81.25 L108.92,83.45 L109.45,85.64 L109.97,87.81 L110.51,89.96 L111.04,92.10 L111.58,94.21 L112.13,96.31 L112.68,98.39 L113.23,100.45 L113.79,102.50 L114.36,104.53 L114.93,106.54 L115.50,108.54 L116.08,110.52 L116.66,112.48 L117.25,114.43 L117.85,116.36 L118.44,118.27 L119.05,120.17 L119.65,122.05 L120.27,123.92 L120.89,125.77 L121.51,127.61 L122.14,129.43 L122.77,131.24 L123.41,133.03 L124.06,134.80 L124.71,136.57 L125.36,138.31 L126.02,140.05 L126.69,141.76 L127.36,143.47 L128.04,145.16 L128.72,146.83 L129.41,148.50 L130.11,150.14 L130.81,151.78 L131.52,153.40 L132.23,155.01 L132.95,156.60 L133.67,158.18 L134.40,159.75 L135.14,161.30 L135.88,162.85 L136.63,164.37 L137.38,165.89 L138.15,167.40 L138.91,168.89 L139.69,170.37 L140.47,171.83 L141.26,173.29 L142.05,174.73 L142.85,176.16 L143.66,177.58 L144.47,178.99 L145.29,180.38 L146.12,181.76 L146.96,183.14 L147.80,184.50 L148.65,185.85 L149.50,187.19 L150.36,188.51 L151.23,189.83 L152.11,191.13 L153.00,192.43 L153.89,193.71 L154.79,194.99 L155.70,196.25 L156.61,197.50 L157.53,198.74 L158.46,199.97 L159.40,201.20 L160.35,202.41 L161.30,203.61 L162.26,204.80 L163.23,205.98 L164.21,207.15 L165.19,208.31 L166.19,209.47 L167.19,210.61 L168.20,211.74 L169.22,212.86 L170.25,213.98 L171.28,215.08 L172.33,216.18 L173.38,217.27 L174.45,218.34 L175.52,219.41 L176.60,220.47 L177.69,221.52 L178.79,222.57 L179.89,223.60 L181.01,224.63 L182.14,225.64 L183.27,226.65 L184.42,227.65 L185.57,228.64 L186.74,229.63 L187.91,230.60 L189.09,231.57 L190.29,232.53 L191.49,233.48 L192.71,234.42 L193.93,235.36 L195.17,236.29 L196.41,237.21 L197.66,238.12 L198.93,239.03 L200.21,239.92 L201.49,240.81 L202.79,241.70 L204.10,242.57 L205.42,243.44 L206.75,244.30 L208.09,245.15 L209.44,246.00 L210.81,246.84 L212.18,247.67 L213.57,248.50 L214.97,249.32 L216.38,250.13 L217.80,250.93 L219.23,251.73 L220.68,252.52 L222.14,253.31 L223.61,254.09 L225.09,254.86 L226.59,255.63 L228.09,256.39 L229.61,257.14 L231.15,257.89 L232.69,258.63 L234.25,259.36 L235.82,260.09 L237.41,260.82 L239.00,261.53 L240.62,262.24 L242.24,262.95 L243.88,263.65 L245.53,264.34 L247.20,265.03 L248.88,265.71 L250.57,266.39 L252.28,267.06 L254.00,267.72 L255.74,268.38 L257.49,269.04 L259.25,269.68 L261.03,270.33 L262.83,270.97 L264.64,271.60 L266.46,272.23 L268.31,272.85 L270.16,273.46 L272.03,274.08 L273.92,274.68 L275.82,275.29 L277.74,275.88 L279.68,276.47 L281.63,277.06 L283.60,277.64 L285.58,278.22 L287.58,278.79 L289.60,279.36 L291.63,279.92 L293.68,280.48 L295.75,281.04 L297.84,281.58 L299.94,282.13 L302.06,282.67 L304.20,283.20 L306.36,283.74 L308.53,284.26 L310.72,284.78 L312.93,285.30 L315.16,285.82 L317.41,286.33 L319.68,286.83 L321.96,287.33 L324.27,287.83 L326.59,288.32 L328.94,288.81 L331.30,289.30"/>
<path d="M154.60,40.80 L155.13,42.28 L155.65,43.75 L156.18,45.22 L156.72,46.67 L157.25,48.12 L157.79,49.57 L158.33,51.00 L158.87,52.43 L159.42,53.86 L159.97,55.27 L160.52,56.68 L161.07,58.08 L161.63,59.48 L162.19,60.87 L162.75,62.25 L163.32,63.63 L163.88,65.00 L164.45,66.36 L165.03,67.71 L165.60,69.06 L166.18,70.41 L166.76,71.74 L167.35,73.07 L167.93,74.40 L168.52,75.71 L169.12,77.02 L169.71,78.33 L170.31,79.62 L170.91,80.92 L171.52,82.20 L172.12,83.48 L172.73,84.75 L173.35,86.02 L173.96,87.28 L174.58,88.54 L175.20,89.79 L175.83,91.03 L176.46,92.26 L177.09,93.50 L177.72,94.72 L178.36,95.94 L179.00,97.15 L179.64,98.36 L180.29,99.56 L180.94,100.76 L181.59,101.95 L182.25,103.13 L182.91,104.31 L183.57,105.48 L184.24,106.65 L184.91,107.81 L185.58,108.96 L186.25,110.11 L186.93,111.26 L187.61,112.40 L188.30,113.53 L188.99,114.66 L189.68,115.78 L190.38,116.90 L191.07,118.01 L191.78,119.12 L192.48,120.22 L193.19,121.31 L193.90,122.40 L194.62,123.49 L195.34,124.57 L196.06,125.64 L196.79,126.71 L197.52,127.78 L198.25,128.84 L198.99,129.89 L199.73,130.94 L200.47,131.98 L201.22,133.02 L201.97,134.06 L202.73,135.09 L203.49,136.11 L204.25,137.13 L205.01,138.14 L205.78,139.15 L206.56,140.16 L207.33,141.16 L208.11,142.15 L208.90,143.14 L209.69,144.13 L210.48,145.11 L211.28,146.08 L212.08,147.05 L212.88,148.02 L213.69,148.98 L214.50,149.94 L215.32,150.89 L216.14,151.84 L216.96,152.78 L217.79,153.72 L218.62,154.65 L219.45,155.58 L220.29,156.51 L221.14,157.43 L221.99,158.35 L222.84,159.26 L223.69,160.16 L224.55,161.07 L225.42,161.97 L226.29,162.86 L227.16,163.75 L228.04,164.64 L228.92,165.52 L229.80,166.39 L230.69,167.27 L231.59,168.14 L232.49,169.00 L233.39,169.86 L234.30,170.72 L235.21,171.57 L236.13,172.42 L237.05,173.26 L237.97,174.10 L238.90,174.94 L239.83,175.77 L240.77,176.60 L241.72,177.42 L242.66,178.24 L243.62,179.05 L244.57,179.87 L245.53,180.67 L246.50,181.48 L247.47,182.28 L248.45,183.07 L249.43,183.87 L250.41,184.66 L251.40,185.44 L252.40,186.22 L253.40,187.00 L254.40,187.77 L255.41,188.54 L256.42,189.31 L257.44,190.07 L258.47,190.83 L259.50,191.58 L260.53,192.34 L261.57,193.08 L262.61,193.83 L263.66,194.57 L264.72,195.30 L265.78,196.04 L266.84,196.77 L267.91,197.49 L268.98,198.22 L270.06,198.94 L271.15,199.65 L272.24,200.36 L273.34,201.07 L274.44,201.78 L275.54,202.48 L276.65,203.18 L277.77,203.87 L278.89,204.57 L280.02,205.26 L281.16,205.94 L282.29,206.62 L283.44,207.30 L284.59,207.98 L285.75,208.65 L286.91,209.32 L288.07,209.98 L289.25,210.65 L290.42,211.31 L291.61,211.96 L292.80,212.62 L293.99,213.26 L295.19,213.91 L296.40,214.56 L297.61,215.20 L298.83,215.83 L300.06,216.47 L301.29,217.10 L302.52,217.73 L303.77,218.35 L305.02,218.97 L306.27,219.59 L307.53,220.21 L308.80,220.82 L310.07,221.43 L311.35,222.04 L312.64,222.64 L313.93,223.25 L315.23,223.84 L316.53,224.44 L317.84,225.03 L319.16,225.62 L320.48,226.21 L321.81,226.79 L323.15,227.38 L324.49,227.95 L325.84,228.53 L327.19,229.10 L328.56,229.67 L329.92,230.24 L331.30,230.81"/>
</g>
<path d="M57.70,325.30 v-2.40 M57.70,41.00 v2.40 M69.10,325.30 v-2.40 M69.10,41.00 v2.40 M80.50,325.30 v-2.40 M80.50,41.00 v2.40 M91.90,325.30 v-2.40 M91.90,41.00 v2.40 M103.30,325.30 v-5.50 M103.30,41.00 v5.50 M114.70,325.30 v-2.40 M114.70,41.00 v2.40 M126.10,325.30 v-2.40 M126.10,41.00 v2.40 M137.50,325.30 v-2.40 M137.50,41.00 v2.40 M148.90,325.30 v-2.40 M148.90,41.00 v2.40 M160.30,325.30 v-5.50 M160.30,41.00 v5.50 M171.70,325.30 v-2.40 M171.70,41.00 v2.40 M183.10,325.30 v-2.40 M183.10,41.00 v2.40 M194.50,325.30 v-2.40 M194.50,41.00 v2.40 M205.90,325.30 v-2.40 M205.90,41.00 v2.40 M217.30,325.30 v-5.50 M217.30,41.00 v5.50 M228.70,325.30 v-2.40 M228.70,41.00 v2.40 M240.10,325.30 v-2.40 M240.10,41.00 v2.40 M251.50,325.30 v-2.40 M251.50,41.00 v2.40 M262.90,325.30 v-2.40 M262.90,41.00 v2.40 M274.30,325.30 v-5.50 M274.30,41.00 v5.50 M285.70,325.30 v-2.40 M285.70,41.00 v2.40 M297.10,325.30 v-2.40 M297.10,41.00 v2.40 M308.50,325.30 v-2.40 M308.50,41.00 v2.40 M319.90,325.30 v-2.40 M319.90,41.00 v2.40 M331.30,325.30 v-5.50 M331.30,41.00 v5.50 M46.50,320.99 h2.40 M331.50,320.99 h-2.40 M46.50,312.24 h2.40 M331.50,312.24 h-2.40 M46.50,303.48 h5.50 M331.50,303.48 h-5.50 M46.50,294.72 h2.40 M331.50,294.72 h-2.40 M46.50,285.97 h2.40 M331.50,285.97 h-2.40 M46.50,277.21 h2.40 M331.50,277.21 h-2.40 M46.50,268.46 h2.40 M331.50,268.46 h-2.40 M46.50,259.70 h5.50 M331.50,259.70 h-5.50 M46.50,250.94 h2.40 M331.50,250.94 h-2.40 M46.50,242.19 h2.40 M331.50,242.19 h-2.40 M46.50,233.43 h2.40 M331.50,233.43 h-2.40 M46.50,224.68 h2.40 M331.50,224.68 h-2.40 M46.50,215.92 h5.50 M331.50,215.92 h-5.50 M46.50,207.16 h2.40 M331.50,207.16 h-2.40 M46.50,198.41 h2.40 M331.50,198.41 h-2.40 M46.50,189.65 h2.40 M331.50,189.65 h-2.40 M46.50,180.90 h2.40 M331.50,180.90 h-2.40 M46.50,172.14 h5.50 M331.50,172.14 h-5.50 M46.50,163.38 h2.40 M331.50,163.38 h-2.40 M46.50,154.63 h2.40 M331.50,154.63 h-2.40 M46.50,145.87 h2.40 M331.50,145.87 h-2.40 M46.50,137.12 h2.40 M331.50,137.12 h-2.40 M46.50,128.36 h5.50 M331.50,128.36 h-5.50 M46.50,119.60 h2.40 M331.50,119.60 h-2.40 M46.50,110.85 h2.40 M331.50,110.85 h-2.40 M46.50,102.09 h2.40 M331.50,102.09 h-2.40 M46.50,93.34 h2.40 M331.50,93.34 h-2.40 M46.50,84.58 h5.50 M331.50,84.58 h-5.50 M46.50,75.82 h2.40 M331.50,75.82 h-2.40 M46.50,67.07 h2.40 M331.50,67.07 h-2.40 M46.50,58.31 h2.40 M331.50,58.31 h-2.40 M46.50,49.56 h2.40 M331.50,49.56 h-2.40 M46.50,40.80 h5.50 M331.50,40.80 h-5.50" stroke="#000" stroke-opacity="0.18" stroke-width="0.8" fill="none"/>
<rect x="46.50" y="41.00" width="285.00" height="284.30" fill="none" stroke="#000" stroke-opacity="0.15" stroke-width="1.1"/>
<g font-family="'Liberation Sans', sans-serif" font-size="14.5" fill="#000">
<text x="160.60" y="338.6" text-anchor="middle">2</text>
<text x="217.60" y="338.6" text-anchor="middle">3</text>
<text x="274.60" y="338.6" text-anchor="middle">4</text>
<text x="331.60" y="338.6" text-anchor="middle">5</text>
<text x="44.9" y="263.70" text-anchor="end">2</text>
<text x="44.9" y="219.92" text-anchor="end">3</text>
<text x="44.9" y="176.14" text-anchor="end">4</text>
<text x="44.9" y="132.36" text-anchor="end">5</text>
<text x="44.9" y="88.58" text-anchor="end">6</text>
<text x="44.9" y="44.80" text-anchor="end">7</text>
</g>
<path d="M104.80,338.60L103.52,338.60L103.52,331.28L101.06,331.28L101.06,330.36C102.64,330.31 103.73,329.68 103.97,328.32L104.80,328.32Z" fill="#000"/>
<path d="M42.10,307.48L40.82,307.48L40.82,300.16L38.36,300.16L38.36,299.24C39.94,299.19 41.03,298.56 41.27,297.20L42.10,297.20Z" fill="#000"/>
<text transform="translate(59.23,305.10) scale(1.0139,1)" font-family="'Liberation Sans', sans-serif" font-size="14.50" fill="#4d4d4d">0.02</text>
<text transform="translate(93.71,274.60) scale(1.0488,1)" font-family="'Liberation Sans', sans-serif" font-size="14.50" fill="#4d4d4d">0.</text>
<path d="M112.00,274.60L110.72,274.60L110.72,267.28L108.26,267.28L108.26,266.36C109.84,266.31 110.93,265.68 111.17,264.32L112.00,264.32Z" fill="#4d4d4d"/>
<text transform="translate(164.72,203.80) scale(1.0168,1)" font-family="'Liberation Sans', sans-serif" font-size="14.50" fill="#4d4d4d">0.5</text>
<path d="M229.50,150.70L228.22,150.70L228.22,143.38L225.76,143.38L225.76,142.46C227.34,142.41 228.43,141.78 228.67,140.42L229.50,140.42Z" fill="#4d4d4d"/>
<text transform="translate(100.73,56.70) scale(0.9968,1)" font-family="'Liberation Serif', serif" font-style="italic" font-size="19.60" fill="#000">M</text>
<text transform="translate(117.91,59.30) scale(1.0967,1)" font-family="'Liberation Serif', serif" font-size="9.20" fill="#000">H</text>
<text transform="translate(128.35,56.90) scale(0.7045,1)" font-family="'Liberation Serif', serif" font-size="21.00" fill="#000">(</text>
<text transform="translate(133.83,56.70) scale(1.1090,1)" font-family="'Liberation Serif', serif" font-style="italic" font-size="17.30" fill="#000">a</text>
<path d="M150,50.35H161.9M150,54.25H161.9" stroke="#000" stroke-width="0.85" fill="none"/>
<text transform="translate(168.18,56.60) scale(1.0165,1)" font-family="'Liberation Serif', serif" font-size="18.60" fill="#000">0.998</text>
<text transform="translate(211.42,56.90) scale(0.7045,1)" font-family="'Liberation Serif', serif" font-size="21.00" fill="#000">)</text>
<path d="M236,46.5L225.3,51.7L236,56.9" stroke="#000" stroke-width="0.8" fill="none"/>
<text transform="translate(244.73,56.70) scale(0.9910,1)" font-family="'Liberation Serif', serif" font-style="italic" font-size="19.60" fill="#000">M</text>
<text transform="translate(261.68,59.30) scale(1.2004,1)" font-family="'Liberation Serif', serif" font-size="9.20" fill="#000">BH</text>
<text transform="translate(262.18,308.20) scale(1.0501,1)" font-family="'Liberation Serif', serif" font-size="19.00" fill="#000">Vectors</text>
<text transform="translate(141.02,362.40) scale(1.1982,1)" font-family="'Liberation Serif', serif" font-style="italic" font-size="18.30" fill="#000">μ</text>
<path d="M159.2,348.4H157V367.4H159.2" stroke="#000" stroke-width="1.05" fill="none"/>
<text transform="translate(159.99,362.50) scale(0.9842,1)" font-family="'Liberation Serif', serif" font-size="18.60" fill="#000">10</text>
<path d="M180,351.2H187.9" stroke="#000" stroke-width="0.8" fill="none"/>
<text transform="translate(189.07,354.60) scale(1.0286,1)" font-family="'Liberation Serif', serif" font-size="12.50" fill="#000">19</text>
<text transform="translate(206.29,362.40) scale(0.9734,1)" font-family="'Liberation Serif', serif" font-size="18.60" fill="#000">eV</text>
<path d="M227.6,348.4H229.8V367.4H227.6" stroke="#000" stroke-width="1.05" fill="none"/>
<g transform="translate(16.5,235.2) rotate(-90)">
<text transform="translate(0.24,0.00) scale(1.0207,1)" font-family="'Liberation Serif', serif" font-style="italic" font-size="19.80" fill="#000">M</text>
<text transform="translate(18.32,2.80) scale(1.0043,1)" font-family="'Liberation Serif', serif" font-size="9.80" fill="#000">BH</text>
<path d="M41.9,-14.1H39.7V4.2H41.9" stroke="#000" stroke-width="1.05" fill="none"/>
<text transform="translate(41.98,0.00) scale(0.9904,1)" font-family="'Liberation Serif', serif" font-size="18.60" fill="#000">10</text>
<text transform="translate(59.92,-7.90) scale(1.2269,1)" font-family="'Liberation Serif', serif" font-size="12.50" fill="#000">8</text>
<text transform="translate(72.74,0.00) scale(1.0151,1)" font-family="'Liberation Serif', serif" font-style="italic" font-size="19.80" fill="#000">M</text>
<circle cx="94.4" cy="-0.65" r="3.85" fill="none" stroke="#000" stroke-width="0.8"/><circle cx="94.4" cy="-0.65" r="0.95" fill="#000"/>
<path d="M100.4,-14.1H102.6V4.2H100.4" stroke="#000" stroke-width="1.05" fill="none"/>
</g>
</g>
<text transform="translate(28.61,13.40) scale(1.1161,1)" font-family="'Liberation Serif', serif" font-weight="bold" font-size="19.20" fill="#000">a</text>
<text transform="translate(379.34,13.40) scale(1.0770,1)" font-family="'Liberation Serif', serif" font-weight="bold" font-size="19.20" fill="#000">b</text>
</g>
</svg>
</body></html>
